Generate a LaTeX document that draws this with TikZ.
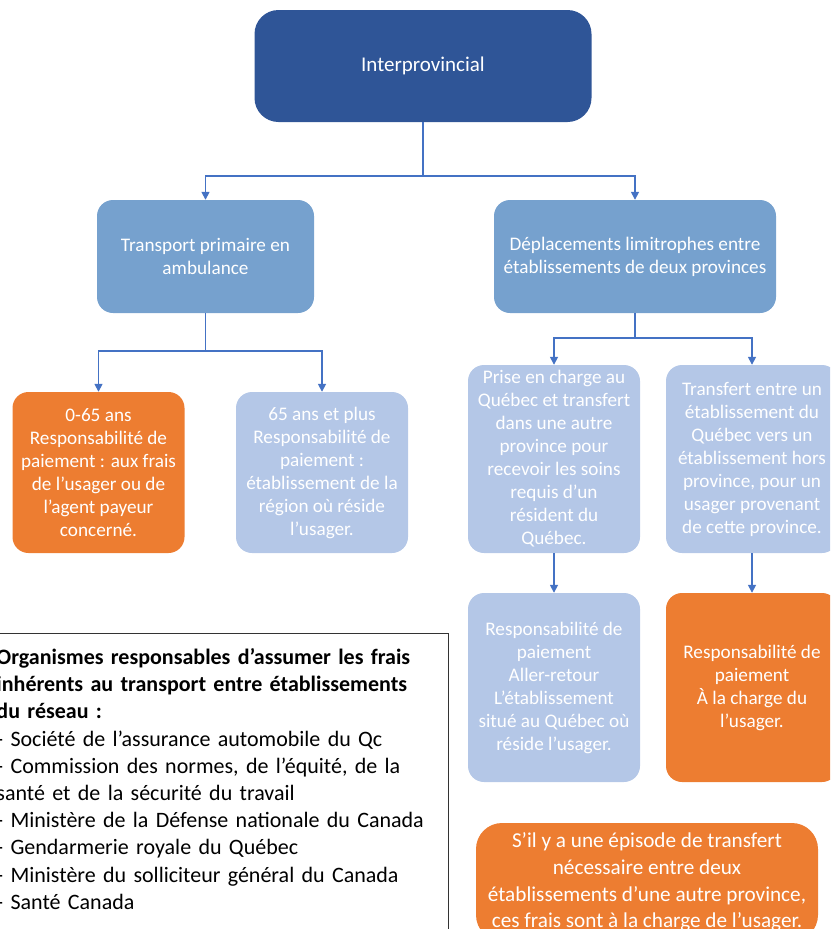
\documentclass[tikz,border=0pt]{standalone}
\usepackage{fontspec}
\setmainfont{Carlito}
\usepackage{xcolor}
\usepackage{tikz}
\usetikzlibrary{arrows.meta,positioning}
\definecolor{darkblue}{HTML}{2F5597}
\definecolor{midblue}{HTML}{76A1CE}
\definecolor{paleblue}{HTML}{B4C7E7}
\definecolor{orangefill}{HTML}{ED7D31}
\definecolor{linkblue}{HTML}{4472C4}
\tikzstyle{arrow} = [-{Triangle[width=8pt,length=8pt]}, draw=linkblue, line width=1.6pt]
\tikzstyle{box} = [rounded corners=16pt, align=center, text=white, inner sep=0pt, font=\fontsize{19.2}{23}\selectfont]
\tikzstyle{hub} = [box, fill=darkblue, minimum width=337pt, minimum height=112pt, rounded corners=24pt, font=\fontsize{21}{25}\selectfont]
\tikzstyle{midbox} = [box, fill=midblue, minimum height=113pt]
\tikzstyle{lightbox} = [box, fill=paleblue, minimum width=172pt, minimum height=188pt]
\tikzstyle{orangebox} = [box, fill=orangefill, minimum width=172pt, minimum height=188pt]
\tikzstyle{legend} = [draw=black!80, line width=1pt, align=left, text width=442pt, inner xsep=10pt, inner ysep=15pt, font=\fontsize{22}{27.2}\selectfont]

\begin{document}
\begin{tikzpicture}[x=1pt, y=1pt]
		\useasboundingbox (0,0) rectangle (830,-929);
		\clip (0,0) rectangle (830,-929);
		
		\node (top) [hub] at (423,-66) {Interprovincial};
		\node (ambu) [midbox, minimum width=217pt, node distance=190.5pt, below of=top, xshift=-217.5pt] {Transport primaire en\\ambulance};
		\node (depl) [midbox, minimum width=282pt, node distance=429.5pt, right of=ambu] {Déplacements limitrophes entre\\établissements de deux provinces};
		
		\draw [arrow] (top.south) -- ++(0,-54) -| (ambu.north);
		\draw [arrow] (top.south) -- ++(0,-54) -| (depl.north);
		
		\node (age0) [orangebox, minimum height=161pt, node distance=216pt, below of=ambu, xshift=-107pt] {0-65 ans\\Responsabilité de\\paiement : aux frais\\de l’usager ou de\\l’agent payeur\\concerné.};
		\node (age65) [lightbox, minimum height=161pt, node distance=223.5pt, right of=age0] {65 ans et plus\\Responsabilité de\\paiement :\\établissement de la\\région où réside\\l’usager.};
		
		\draw [arrow] (ambu.south) -- ++(0,-38) -| (age0.north);
		\draw [arrow] (ambu.south) -- ++(0,-38) -| (age65.north);
		
		\node (prise) [lightbox, node distance=202.5pt, below of=depl, xshift=-81pt] {Prise en charge au\\Québec et transfert\\dans une autre\\province pour\\recevoir les soins\\requis d’un\\résident du\\Québec.};
		\node (transf) [lightbox, node distance=198pt, right of=prise] {Transfert entre un\\établissement du\\Québec vers un\\établissement hors\\province, pour un\\usager provenant\\de cette province.};
		
		\draw [arrow] (depl.south) -- ++(0,-25) -| (prise.north);
		\draw [arrow] (depl.south) -- ++(0,-25) -| (transf.north);
		
		\node (resp1) [lightbox, minimum height=189pt, node distance=228.5pt, below of=prise] {Responsabilité de\\paiement\\Aller-retour\\L’établissement\\situé au Québec où\\réside l’usager.};
		\node (resp2) [orangebox, minimum height=189pt, node distance=228.5pt, below of=transf] {Responsabilité de\\paiement\\À la charge du\\l’usager.};
		
		\draw [arrow] (prise) -- (resp1);
		\draw [arrow] (transf) -- (resp2);
		
		\node (note) [orangebox, minimum width=342pt, minimum height=118pt, rounded corners=26pt, font=\fontsize{21.2}{26.7}\selectfont, node distance=194.5pt, below of=resp2, xshift=-105pt] {S’il y a une épisode de transfert\\nécessaire entre deux\\établissements d’une autre province,\\ces frais sont à la charge de l’usager.};
		
		\node (orgs) [legend, anchor=north west] at (-14,-633) {\textbf{Organismes responsables d’assumer les frais}\\\textbf{inhérents au transport entre établissements}\\\textbf{du réseau :}\\- Société de l’assurance automobile du Qc\\- Commission des normes, de l’équité, de la\\santé et de la sécurité du travail\\- Ministère de la Défense nationale du Canada\\- Gendarmerie royale du Québec\\- Ministère du solliciteur général du Canada\\- Santé Canada\\\rule{0pt}{30pt}};
	\end{tikzpicture}
\end{document}
